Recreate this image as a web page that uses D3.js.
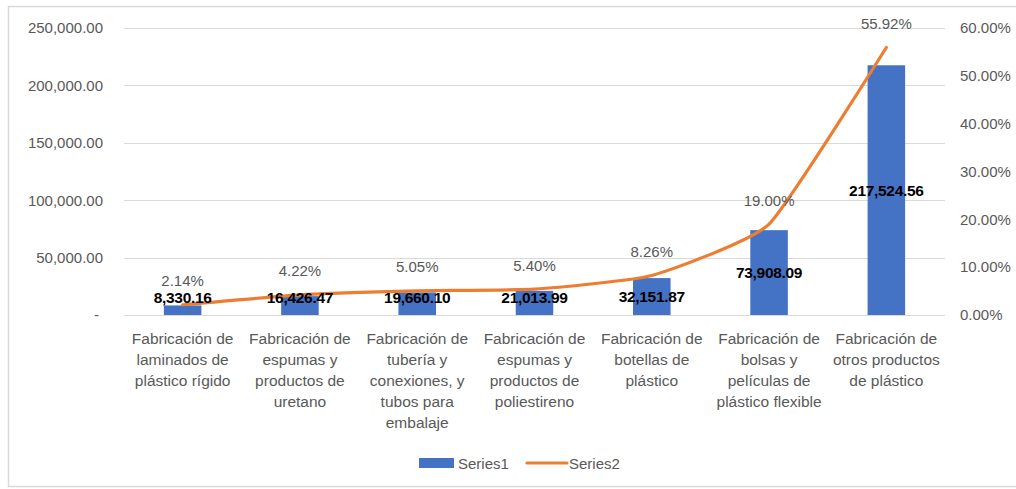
<!DOCTYPE html>
<html>
<head>
<meta charset="utf-8">
<script src="https://cdn.jsdelivr.net/npm/d3@7"></script>
<style>
  body { margin: 0; background: #fff; }
  svg { display: block; }
  text { font-family: "Liberation Sans", Arial, sans-serif; }
</style>
</head>
<body>
<svg id="chart" width="1016" height="489"></svg>
<script>
// ---- data ----
const categories = [
  "Fabricación de\nlaminados de\nplástico rígido",
  "Fabricación de\nespumas y\nproductos de\nuretano",
  "Fabricación de\ntubería y\nconexiones, y\ntubos para\nembalaje",
  "Fabricación de\nespumas y\nproductos de\npoliestireno",
  "Fabricación de\nbotellas de\nplástico",
  "Fabricación de\nbolsas y\npelículas de\nplástico flexible",
  "Fabricación de\notros productos\nde plástico"
];
const series1 = [8330.16, 16426.47, 19660.10, 21013.99, 32151.87, 73908.09, 217524.56];
const series2 = [0.0214, 0.0422, 0.0505, 0.0540, 0.0826, 0.1900, 0.5592];
const leftTicks = [0, 50000, 100000, 150000, 200000, 250000];
const rightTicks = [0, 0.1, 0.2, 0.3, 0.4, 0.5, 0.6];
const seriesNames = ["Series1", "Series2"];

// ---- layout ----
const svg = d3.select("#chart");
const m = { left: 124, right: 1016 - 945, top: 28, bottom: 489 - 315 };
const W = 1016, H = 489;
const x0 = m.left, x1 = W - m.right, y0 = H - m.bottom, y1 = m.top;

const blue = "#4472C4", orange = "#ED7D31", gray = "#595959", grid = "#d9d9d9";

// chart border
svg.append("rect").attr("x", 8.5).attr("y", 6.5).attr("width", 1020).attr("height", 480)
  .attr("fill", "none").attr("stroke", "#d9d9d9").attr("stroke-width", 1.5);

const x = d3.scaleBand().domain(d3.range(categories.length)).range([x0, x1]).paddingInner(0.68).paddingOuter(0.34);
const yL = d3.scaleLinear().domain([0, 250000]).range([y0, y1]);
const yR = d3.scaleLinear().domain([0, 0.6]).range([y0, y1]);

// gridlines
svg.append("g").selectAll("line").data(leftTicks).join("line")
  .attr("x1", x0).attr("x2", x1)
  .attr("y1", d => Math.round(yL(d)) + 0.5).attr("y2", d => Math.round(yL(d)) + 0.5)
  .attr("stroke", grid).attr("stroke-width", 1);

// left axis
const fmtL = d => d === 0 ? "-" : d3.format(",.2f")(d);
const axL = d3.axisLeft(yL).tickValues(leftTicks).tickFormat(fmtL).tickSize(0).tickPadding(21);
const gL = svg.append("g").attr("transform", `translate(${x0},0)`).call(axL);
gL.select(".domain").remove();
gL.selectAll("text").attr("fill", gray).style("font-size", "15px").attr("dx", d => d === 0 ? -4 : 0);

// right axis
const axR = d3.axisRight(yR).tickValues(rightTicks).tickFormat(d3.format(".2%")).tickSize(0).tickPadding(15);
const gR = svg.append("g").attr("transform", `translate(${x1},0)`).call(axR);
gR.select(".domain").remove();
gR.selectAll("text").attr("fill", gray).style("font-size", "15px");

// bars
svg.append("g").selectAll("rect").data(series1).join("rect")
  .attr("x", (d, i) => x(i)).attr("width", x.bandwidth())
  .attr("y", d => yL(d)).attr("height", d => yL(0) - yL(d))
  .attr("fill", blue);

// line
const cx = i => x(i) + x.bandwidth() / 2;
const line = d3.line().x((d, i) => cx(i)).y(d => yR(d)).curve(d3.curveCardinal.tension(0.55));
svg.append("path").datum(series2).attr("d", line)
  .attr("fill", "none").attr("stroke", orange).attr("stroke-width", 3.2).attr("stroke-linecap", "round");

// percent labels
svg.append("g").selectAll("text").data(series2).join("text")
  .attr("x", (d, i) => cx(i)).attr("y", d => yR(d) - 24)
  .attr("text-anchor", "middle").attr("dominant-baseline", "central")
  .attr("fill", gray).style("font-size", "15px")
  .text(d => d3.format(".2%")(d));

// value labels
svg.append("g").selectAll("text").data(series1).join("text")
  .attr("x", (d, i) => cx(i)).attr("y", d => Math.min(yL(d / 2), yL(0) - 18))
  .attr("text-anchor", "middle").attr("dominant-baseline", "central")
  .attr("fill", "#000").style("font-size", "15.5px").style("font-weight", "bold")
  .style("letter-spacing", "-0.3px")
  .text(d => d3.format(",.2f")(d));

// category labels
const catG = svg.append("g").selectAll("text").data(categories).join("text")
  .attr("x", (d, i) => cx(i)).attr("y", 338)
  .attr("text-anchor", "middle").attr("fill", gray).style("font-size", "15.5px");
catG.each(function(d) {
  const t = d3.select(this);
  d.split("\n").forEach((ln, k) => {
    t.append("tspan").attr("x", t.attr("x")).attr("y", 338 + k * 21.2)
      .attr("dominant-baseline", "central").text(ln);
  });
});

// legend
const lg = svg.append("g");
lg.append("rect").attr("x", 419).attr("y", 458).attr("width", 35).attr("height", 10).attr("fill", blue);
lg.append("text").attr("x", 458).attr("y", 463).attr("dominant-baseline", "central")
  .attr("fill", gray).style("font-size", "15px").text(seriesNames[0]);
lg.append("line").attr("x1", 527).attr("x2", 567).attr("y1", 463).attr("y2", 463)
  .attr("stroke", orange).attr("stroke-width", 3.2).attr("stroke-linecap", "round");
lg.append("text").attr("x", 569).attr("y", 463).attr("dominant-baseline", "central")
  .attr("fill", gray).style("font-size", "15px").text(seriesNames[1]);
</script>
</body>
</html>
